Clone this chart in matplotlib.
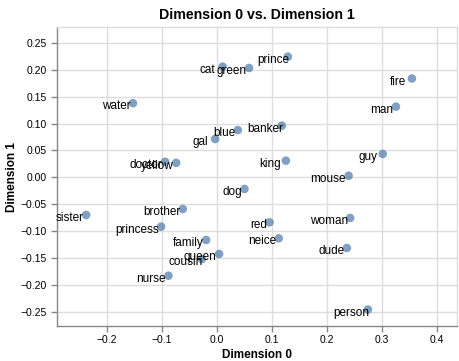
import matplotlib
matplotlib.use("Agg")
import matplotlib.pyplot as plt
from matplotlib.transforms import offset_copy

plt.rcParams['font.family'] = ['Liberation Sans', 'DejaVu Sans']

words = ["prince", "cat", "green", "fire", "water", "man", "banker", "blue", "gal",
         "guy", "doctor", "yellow", "king", "mouse", "dog", "brother", "sister", "red",
         "woman", "princess", "family", "neice", "queen", "dude", "cousin", "nurse", "person"]
dim0 = [0.1285, 0.010, 0.058, 0.354, -0.153, 0.325, 0.1176, 0.0376, -0.0036,
        0.301, -0.0945, -0.0745, 0.125, 0.239, 0.0497, -0.0624, -0.238, 0.0952,
        0.2418, -0.1018, -0.020, 0.112, 0.0036, 0.2358, -0.0278, -0.0885, 0.274]
dim1 = [0.2246, 0.206, 0.2036, 0.184, 0.138, 0.1316, 0.0962, 0.088, 0.0714,
        0.0435, 0.029, 0.027, 0.031, 0.003, -0.0216, -0.0589, -0.070, -0.0837,
        -0.0756, -0.0917, -0.1166, -0.1135, -0.1426, -0.1314, -0.152, -0.183, -0.246]

xticks = [-0.2, -0.1, 0.0, 0.1, 0.2, 0.3, 0.4]
yticks = [-0.25, -0.20, -0.15, -0.10, -0.05, 0.00, 0.05, 0.10, 0.15, 0.20, 0.25]

# extra horizontal label nudges (points), to mimic the reference label layout
label_nudge = {"cat": -3.5, "gal": -3.0, "fire": -2.5, "guy": -2.0, "king": -1.5,
               "banker": 3.0, "prince": 2.5, "person": 3.0, "cousin": 2.5}

fig = plt.figure(figsize=(4.6, 3.61), dpi=100)
ax = fig.add_axes([57/460, 1-326/361, 400/460, 299/361])

ax.scatter(dim0, dim1, s=38, color="#4c78a8", alpha=0.7, edgecolors='none', zorder=3)

for w, x, y in zip(words, dim0, dim1):
    trans = offset_copy(ax.transData, fig=fig, x=-1.8 + label_nudge.get(w, 0.0),
                        y=-2.2, units='points')
    ax.text(x, y, w, transform=trans, ha='right', va='center', fontsize=8.5,
            color='black', zorder=4)

ax.set_xlim(-0.291, 0.436)
ax.set_ylim(-0.2766, 0.2798)
ax.set_xticks(xticks)
ax.set_yticks(yticks)
ax.set_xticklabels([f"{v:.1f}".replace("-", "\u2212") for v in xticks])
ax.set_yticklabels([f"{v:.2f}".replace("-", "\u2212") for v in yticks])
ax.grid(True, color="#dddddd", linewidth=1)
ax.set_axisbelow(True)
for s in ['top', 'right']:
    ax.spines[s].set_color("#dddddd")
    ax.spines[s].set_linewidth(1)
for s in ['left', 'bottom']:
    ax.spines[s].set_color("#888888")
    ax.spines[s].set_linewidth(1)
ax.tick_params(axis='both', length=4, width=1, color="#888888", labelsize=7.5,
               labelcolor="#000000")
ax.tick_params(axis='y', pad=3.5)
ax.tick_params(axis='x', pad=2.5)
ax.set_xlabel("Dimension 0", fontsize=8.5, fontweight='bold', labelpad=3)
ax.set_ylabel("Dimension 1", fontsize=8.5, fontweight='bold', labelpad=1.5)
ax.set_title("Dimension 0 vs. Dimension 1", fontsize=10.2, fontweight='bold', pad=6)

fig.savefig("out.png", dpi=100)
